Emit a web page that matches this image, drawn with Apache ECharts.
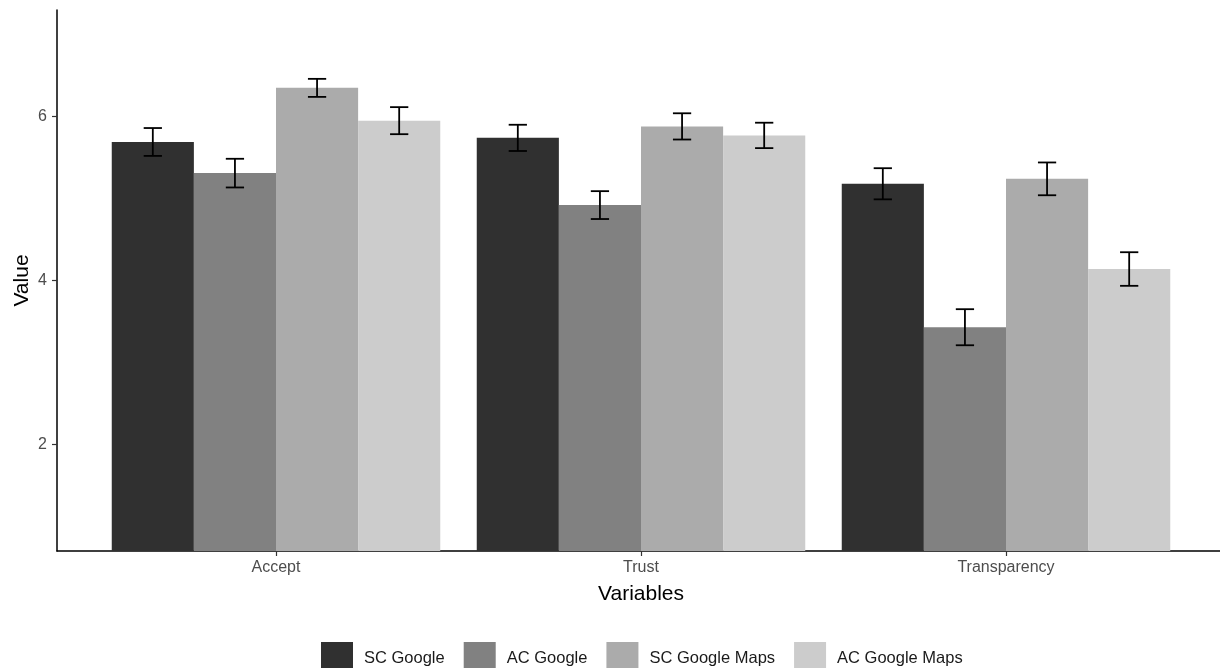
<!DOCTYPE html>
<html>
<head>
<meta charset="utf-8">
<script src="https://cdn.jsdelivr.net/npm/echarts@6/dist/echarts.min.js"></script>
<style>
  html, body { margin: 0; padding: 0; background: #ffffff; }
  #chart { width: 1220px; height: 668px; }
</style>
</head>
<body>
<div id="chart"></div>
<script>
// Variables on the x axis
const categories = ['Accept', 'Trust', 'Transparency'];
// Condition names (legend order)
const seriesNames = ['SC Google', 'AC Google', 'SC Google Maps', 'AC Google Maps'];
const seriesColors = ['#303030', '#818181', '#ababab', '#cccccc'];

// Mean values per variable
const scGoogle = [5.69, 5.74, 5.18];
const acGoogle = [5.31, 4.92, 3.43];
const scGoogleMaps = [6.35, 5.88, 5.24];
const acGoogleMaps = [5.95, 5.77, 4.14];

// Standard errors per variable
const scGoogleErr = [0.17, 0.16, 0.19];
const acGoogleErr = [0.175, 0.17, 0.22];
const scGoogleMapsErr = [0.11, 0.16, 0.20];
const acGoogleMapsErr = [0.165, 0.155, 0.205];

// Y axis range and labelled ticks
const yMin = 0.7;
const yMax = 7.3;
const yTicks = [2, 4, 6];

const means = [scGoogle, acGoogle, scGoogleMaps, acGoogleMaps];
const errs = [scGoogleErr, acGoogleErr, scGoogleMapsErr, acGoogleMapsErr];

const FONT = '"Liberation Sans", Arial, Helvetica, sans-serif';
const BAR_FRACTION = 0.225;   // each bar's share of a category band
const CAP_FRACTION = 0.05;    // error bar cap width as share of a band

const barSeries = seriesNames.map((name, i) => ({
  name: name,
  type: 'bar',
  xAxisIndex: 0,
  yAxisIndex: 0,
  data: means[i],
  barWidth: (BAR_FRACTION * 100) + '%',
  barGap: '0%',
  clip: true,
  itemStyle: { color: seriesColors[i] },
  emphasis: { disabled: true },
  z: 2
}));

// one error bar series per condition, dodged like the bars
const errorSeries = seriesNames.map((name, i) => ({
  type: 'custom',
  xAxisIndex: 0,
  yAxisIndex: 0,
  data: means[i].map((m, k) => [k, m - errs[i][k], m + errs[i][k]]),
  encode: { x: 0, y: [1, 2] },
  z: 5,
  silent: true,
  renderItem: function (params, api) {
    const k = api.value(0);
    const band = api.size([1, 0])[0];
    const lo = api.coord([k, api.value(1)]);
    const hi = api.coord([k, api.value(2)]);
    const x = lo[0] + (i - 1.5) * band * BAR_FRACTION;
    const half = band * CAP_FRACTION / 2;
    const style = { stroke: '#000000', lineWidth: 1.8 };
    return {
      type: 'group',
      children: [
        { type: 'line', shape: { x1: x, y1: lo[1], x2: x, y2: hi[1] }, style: style },
        { type: 'line', shape: { x1: x - half, y1: hi[1], x2: x + half, y2: hi[1] }, style: style },
        { type: 'line', shape: { x1: x - half, y1: lo[1], x2: x + half, y2: lo[1] }, style: style }
      ]
    };
  }
}));

const chart = echarts.init(document.getElementById('chart'), null, { renderer: 'canvas' });

chart.setOption({
  animation: false,
  backgroundColor: '#ffffff',
  textStyle: { fontFamily: FONT },
  grid: [
    // data panel: categories spaced like a discrete ggplot scale
    { left: 93.5, right: 31.5, top: 10, bottom: 117, outerBoundsMode: 'none', containLabel: false },
    // full panel frame carrying the visible axis lines
    { left: 57, right: 0, top: 10, bottom: 117, outerBoundsMode: 'none', containLabel: false }
  ],
  xAxis: [
    {
      type: 'category',
      gridIndex: 0,
      data: categories,
      axisLine: { show: false },
      axisTick: { show: true, alignWithLabel: true, length: 5, lineStyle: { color: '#333333', width: 1.2 } },
      axisLabel: { color: '#4d4d4d', fontSize: 16, fontFamily: FONT, margin: 9 },
      splitLine: { show: false },
      name: 'Variables',
      nameLocation: 'middle',
      nameGap: 33,
      nameMoveOverlap: false,
      nameTextStyle: { color: '#000000', fontSize: 21, fontFamily: FONT }
    },
    {
      type: 'value',
      gridIndex: 1,
      min: 0,
      max: 1,
      axisLine: { show: true, onZero: false, lineStyle: { color: '#000000', width: 1.5 } },
      axisTick: { show: false },
      axisLabel: { show: false },
      splitLine: { show: false }
    }
  ],
  yAxis: [
    {
      type: 'value',
      gridIndex: 0,
      min: yMin,
      max: yMax,
      show: false,
      splitLine: { show: false }
    },
    {
      type: 'value',
      gridIndex: 1,
      min: yMin,
      max: yMax,
      axisLine: { show: true, onZero: false, lineStyle: { color: '#000000', width: 1.5 } },
      axisTick: { show: true, length: 5, customValues: yTicks, lineStyle: { color: '#333333', width: 1.2 } },
      axisLabel: { color: '#4d4d4d', fontSize: 16, fontFamily: FONT, margin: 10, customValues: yTicks },
      splitLine: { show: false },
      name: 'Value',
      nameLocation: 'middle',
      nameGap: 24,
      nameMoveOverlap: false,
      nameTextStyle: { color: '#000000', fontSize: 21, fontFamily: FONT }
    }
  ],
  legend: {
    data: seriesNames,
    left: 316,
    top: 637,
    orient: 'horizontal',
    icon: 'rect',
    itemWidth: 32,
    itemHeight: 32,
    itemGap: 19,
    selectedMode: false,
    textStyle: { color: '#1a1a1a', fontSize: 16.5, fontFamily: FONT, padding: [0, 0, 0, 6] }
  },
  series: barSeries.concat(errorSeries)
});
</script>
</body>
</html>
